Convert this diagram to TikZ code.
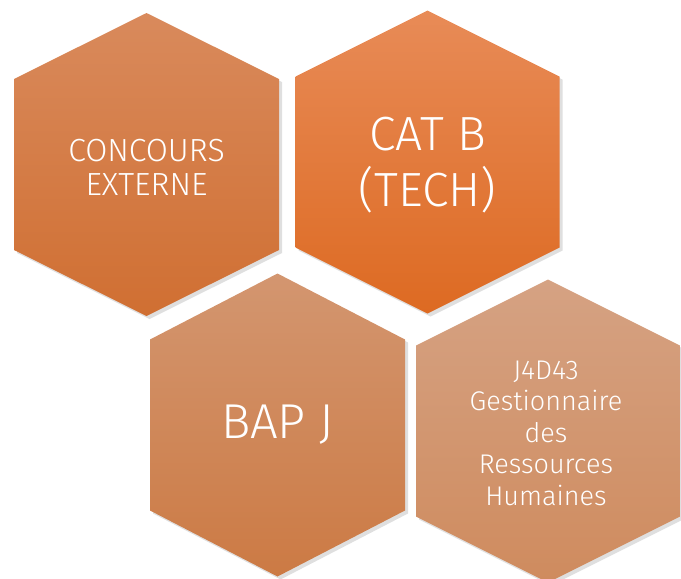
\documentclass[tikz,border=0pt]{standalone}
\usepackage{fontspec}
\newfontfamily\hexfont{Fira Sans Light}
\usetikzlibrary{shadows}
\definecolor{hex_concours_top}{RGB}{217, 138, 92}
\definecolor{hex_concours_bot}{RGB}{208, 111, 50}
\definecolor{hex_cat_top}{RGB}{232, 139, 87}
\definecolor{hex_cat_bot}{RGB}{221, 106, 34}
\definecolor{hex_bap_top}{RGB}{211, 150, 112}
\definecolor{hex_bap_bot}{RGB}{204, 122, 68}
\definecolor{hex_gest_top}{RGB}{213, 162, 131}
\definecolor{hex_gest_bot}{RGB}{207, 139, 94}
% pointy-top hexagon: centre, half width
\newcommand{\hexa}[2]{(#1) ++(0,-151.5) -- ++(#2,66) -- ++(0,171)
  -- ++(-#2,66) -- ++(-#2,-66) -- ++(0,-171) -- cycle}

\begin{document}
\begin{tikzpicture}[x=1pt, y=-1pt,
    cell/.style={drop shadow={shadow xshift=3pt, shadow yshift=-3pt,
                 opacity=0.25}},
    lbl/.style={text=white, align=center},
  ]
  \useasboundingbox (0,0) rectangle (681,579);

  \coordinate (c1) at (146.5, 164.5);
  \coordinate (c2) at (427.5, 162);
  \coordinate (c3) at (277.5, 425);
  \coordinate (c4) at (548, 431);

  \path[cell, top color=hex_concours_top, bottom color=hex_concours_bot] \hexa{c1}{132.5};
  \path[cell, top color=hex_cat_top, bottom color=hex_cat_bot] \hexa{c2}{132};
  \path[cell, top color=hex_bap_top, bottom color=hex_bap_bot] \hexa{c3}{127.5};
  \path[cell, top color=hex_gest_top, bottom color=hex_gest_bot] \hexa{c4}{132};

  \node[lbl, font=\hexfont\fontsize{32}{34}\selectfont] (concours)
    at (146.5, 167) {CONCOURS\\EXTERNE};
  \node[lbl, font=\hexfont\fontsize{48}{56}\selectfont] (cat)
    at (427.5, 165) {CAT B\\(TECH)};
  \node[lbl, font=\hexfont\fontsize{49}{56}\selectfont] (bap)
    at (277.5, 425) {BAP J};
  \node[lbl, font=\hexfont\fontsize{27}{31.5}\selectfont] (gest)
    at (546, 433) {J4D43\\Gestionnaire\\des\\Ressources\\Humaines};
\end{tikzpicture}
\end{document}
